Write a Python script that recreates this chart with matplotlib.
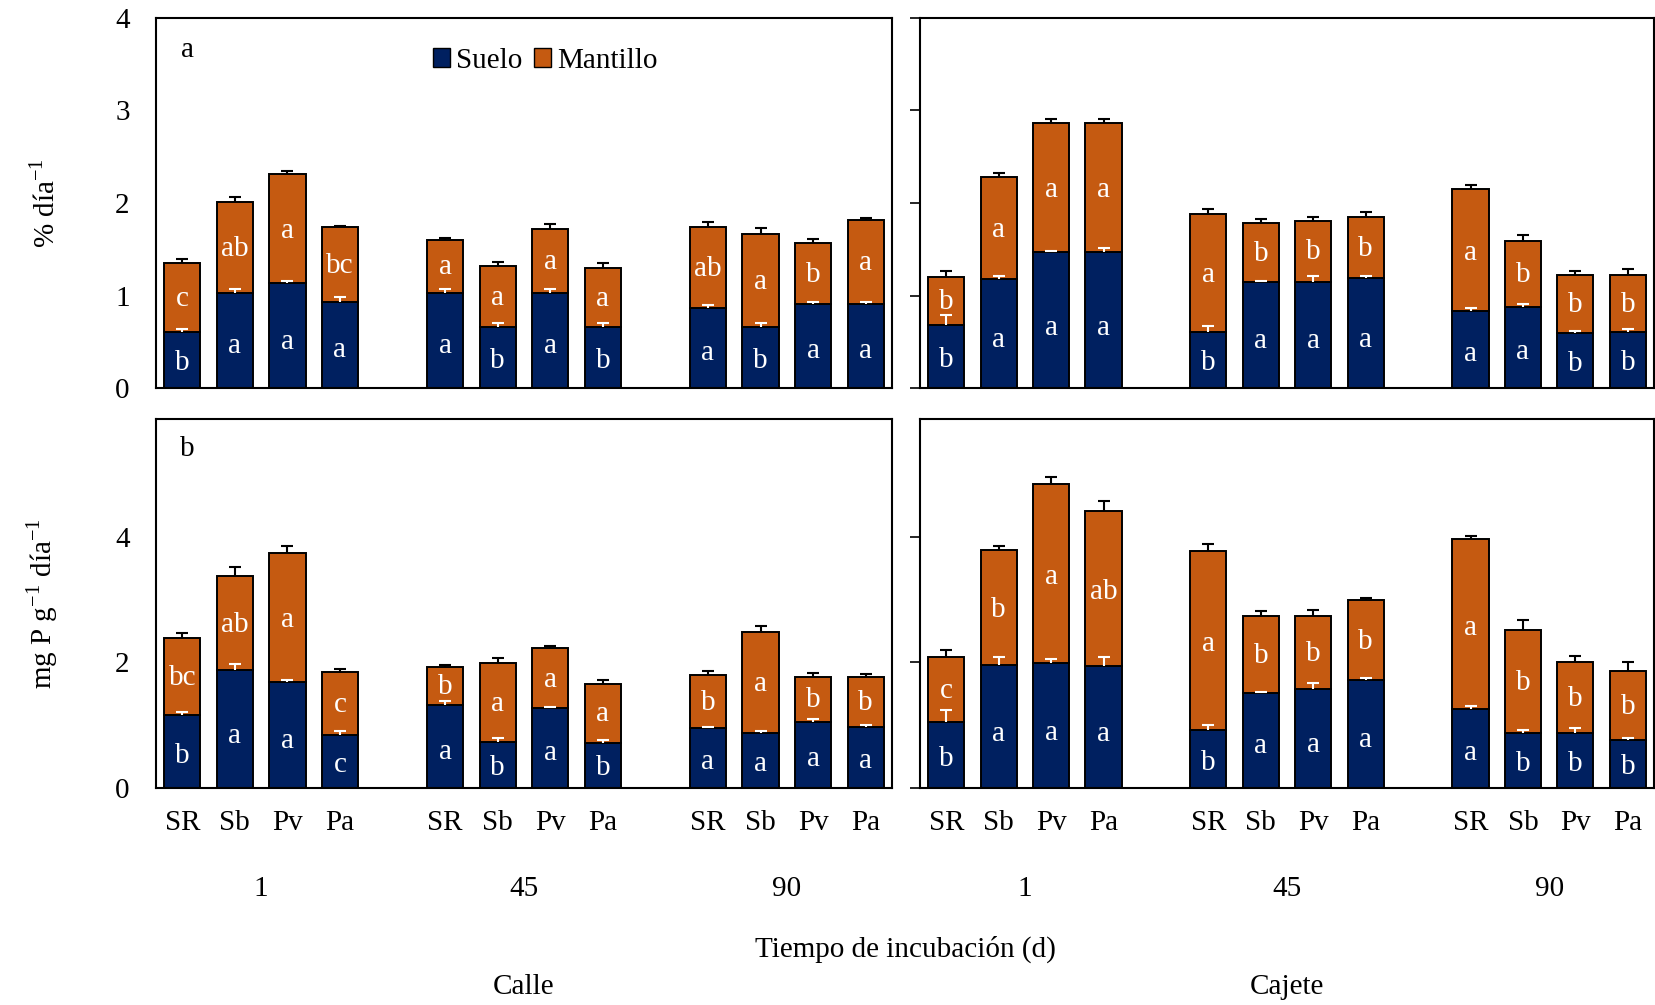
import numpy as np
import matplotlib
matplotlib.use("Agg")
import matplotlib.pyplot as plt
from matplotlib.patches import Patch

plt.rcParams['font.family'] = ['Liberation Serif', 'DejaVu Serif']
plt.rcParams['font.size'] = 21
plt.rcParams['mathtext.fontset'] = 'custom'
plt.rcParams['mathtext.rm'] = 'Liberation Serif'

# tratamientos y tiempos de incubación
tratamientos = ['SR', 'Sb', 'Pv', 'Pa']
tiempos = ['1', '45', '90']

# a) % día-1, Calle
calle_pct_suelo = [0.61, 1.03, 1.13, 0.93, 1.03, 0.66, 1.03, 0.66, 0.86, 0.66, 0.91, 0.91]
calle_pct_mant = [0.74, 0.98, 1.18, 0.81, 0.57, 0.66, 0.69, 0.64, 0.88, 1.01, 0.66, 0.91]
calle_pct_es_suelo = [0.03, 0.04, 0.03, 0.05, 0.04, 0.04, 0.04, 0.04, 0.04, 0.04, 0.02, 0.02]
calle_pct_es_mant = [0.04, 0.05, 0.04, 0.01, 0.02, 0.04, 0.05, 0.05, 0.05, 0.06, 0.04, 0.02]
calle_pct_let_suelo = ['b', 'a', 'a', 'a', 'a', 'b', 'a', 'b', 'a', 'b', 'a', 'a']
calle_pct_let_mant = ['c', 'ab', 'a', 'bc', 'a', 'a', 'a', 'a', 'ab', 'a', 'b', 'a']

# a) % día-1, Cajete
cajete_pct_suelo = [0.68, 1.18, 1.47, 1.47, 0.61, 1.15, 1.15, 1.19, 0.83, 0.88, 0.59, 0.61]
cajete_pct_mant = [0.52, 1.10, 1.39, 1.39, 1.27, 0.63, 0.66, 0.66, 1.32, 0.71, 0.63, 0.61]
cajete_pct_es_suelo = [0.11, 0.03, 0.01, 0.04, 0.06, 0.01, 0.06, 0.02, 0.04, 0.03, 0.03, 0.03]
cajete_pct_es_mant = [0.06, 0.04, 0.05, 0.05, 0.05, 0.05, 0.04, 0.05, 0.04, 0.06, 0.05, 0.07]
cajete_pct_let_suelo = ['b', 'a', 'a', 'a', 'b', 'a', 'a', 'a', 'a', 'a', 'b', 'b']
cajete_pct_let_mant = ['b', 'a', 'a', 'a', 'a', 'b', 'b', 'b', 'a', 'b', 'b', 'b']

# b) mg P g-1 día-1, Calle
calle_p_suelo = [1.16, 1.87, 1.69, 0.85, 1.32, 0.73, 1.27, 0.72, 0.95, 0.88, 1.05, 0.97]
calle_p_mant = [1.22, 1.51, 2.05, 0.99, 0.61, 1.26, 0.95, 0.94, 0.84, 1.60, 0.72, 0.80]
calle_p_es_suelo = [0.05, 0.11, 0.03, 0.06, 0.06, 0.07, 0.02, 0.04, 0.02, 0.03, 0.04, 0.03]
calle_p_es_mant = [0.08, 0.13, 0.11, 0.06, 0.03, 0.08, 0.04, 0.06, 0.07, 0.10, 0.06, 0.04]
calle_p_let_suelo = ['b', 'a', 'a', 'c', 'a', 'b', 'a', 'b', 'a', 'a', 'a', 'a']
calle_p_let_mant = ['bc', 'ab', 'a', 'c', 'b', 'a', 'a', 'a', 'b', 'a', 'b', 'b']

# b) mg P g-1 día-1, Cajete
cajete_p_suelo = [1.05, 1.95, 1.99, 1.94, 0.92, 1.51, 1.57, 1.72, 1.25, 0.88, 0.88, 0.77]
cajete_p_mant = [1.03, 1.83, 2.84, 2.47, 2.85, 1.22, 1.17, 1.27, 2.71, 1.64, 1.13, 1.09]
cajete_p_es_suelo = [0.19, 0.13, 0.07, 0.14, 0.08, 0.02, 0.10, 0.03, 0.06, 0.05, 0.07, 0.03]
cajete_p_es_mant = [0.11, 0.07, 0.12, 0.15, 0.11, 0.09, 0.09, 0.04, 0.05, 0.16, 0.09, 0.15]
cajete_p_let_suelo = ['b', 'a', 'a', 'a', 'b', 'a', 'a', 'a', 'a', 'b', 'b', 'b']
cajete_p_let_mant = ['c', 'b', 'a', 'ab', 'a', 'b', 'b', 'b', 'a', 'b', 'b', 'b']

c_suelo = '#002060'
c_mant = '#C55A11'

# posiciones: 4 barras por tiempo con un hueco entre grupos
x = np.array([g * 5 + i for g in range(3) for i in range(4)])


def barra_error(ax, y, err, color):
    # solo la mitad superior (forma de T)
    eb = ax.errorbar(x, y, yerr=[np.zeros(len(x)), err], fmt='none', ecolor=color,
                     elinewidth=1.5, capsize=4.5, capthick=1.5, zorder=3)
    eb[1][0].set_visible(False)


def panel(ax, suelo, mant, es_s, es_m, let_s, let_m, ylim, yticks):
    suelo = np.array(suelo)
    mant = np.array(mant)
    total = suelo + mant
    ax.bar(x, suelo, width=0.69, color=c_suelo, edgecolor='black', linewidth=1.4, zorder=2)
    ax.bar(x, mant, width=0.69, bottom=suelo, color=c_mant, edgecolor='black', linewidth=1.4, zorder=2)
    barra_error(ax, total, es_m, 'black')
    barra_error(ax, suelo, es_s, 'white')
    for xi, s, m, ls, lm in zip(x, suelo, mant, let_s, let_m):
        ax.text(xi, s * 0.44, ls, color='white', ha='center', va='center', fontsize=21, zorder=4)
        ax.text(xi, s + m * 0.48, lm, color='white', ha='center', va='center', fontsize=21, zorder=4)
    ax.set_xlim(-0.5, 13.5)
    ax.set_ylim(*ylim)
    ax.set_yticks(yticks)
    ax.set_xticks([])
    ax.tick_params(axis='y', direction='out', length=7, width=1.2, pad=14, labelsize=21)
    for sp in ax.spines.values():
        sp.set_linewidth(1.5)
        sp.set_color('black')


fig = plt.figure(figsize=(16.56, 10.05), dpi=100)
ax_tl = fig.add_axes([0.0942, 0.6139, 0.4444, 0.3682])
ax_tr = fig.add_axes([0.5556, 0.6139, 0.4432, 0.3682])
ax_bl = fig.add_axes([0.0942, 0.2159, 0.4444, 0.3672])
ax_br = fig.add_axes([0.5556, 0.2159, 0.4432, 0.3672])

panel(ax_tl, calle_pct_suelo, calle_pct_mant, calle_pct_es_suelo, calle_pct_es_mant,
      calle_pct_let_suelo, calle_pct_let_mant, (0, 4), [0, 1, 2, 3, 4])
panel(ax_tr, cajete_pct_suelo, cajete_pct_mant, cajete_pct_es_suelo, cajete_pct_es_mant,
      cajete_pct_let_suelo, cajete_pct_let_mant, (0, 4), [0, 1, 2, 3, 4])
panel(ax_bl, calle_p_suelo, calle_p_mant, calle_p_es_suelo, calle_p_es_mant,
      calle_p_let_suelo, calle_p_let_mant, (0, 5.87), [0, 2, 4])
panel(ax_br, cajete_p_suelo, cajete_p_mant, cajete_p_es_suelo, cajete_p_es_mant,
      cajete_p_let_suelo, cajete_p_let_mant, (0, 5.87), [0, 2, 4])

# paneles de la izquierda: números sin marcas; derecha: marcas sin números
for ax in (ax_tl, ax_bl):
    ax.tick_params(axis='y', length=0, pad=19)
ax_tr.set_yticklabels([])
ax_br.set_yticklabels([])

ax_tl.text(0.043, 0.913, 'a', transform=ax_tl.transAxes, ha='center', va='center', fontsize=21)
ax_bl.text(0.043, 0.919, 'b', transform=ax_bl.transAxes, ha='center', va='center', fontsize=21)

ax_tl.legend(handles=[Patch(facecolor=c_suelo, edgecolor='black', label='Suelo'),
                      Patch(facecolor=c_mant, edgecolor='black', label='Mantillo')],
             loc='center left', bbox_to_anchor=(0.36, 0.884), ncol=2, frameon=False,
             handlelength=0.6, handleheight=0.6, handletextpad=0.2, columnspacing=0.4,
             fontsize=21, borderaxespad=0)

ax_tl.set_ylabel('% día$^{\\mathrm{-1}}$', fontsize=21, labelpad=0)
ax_bl.set_ylabel('mg P g$^{\\mathrm{-1}}$ día$^{\\mathrm{-1}}$', fontsize=21, labelpad=0)
for ax in (ax_tl, ax_bl):
    ax.yaxis.set_label_coords(-0.13, 0.5)

# etiquetas de tratamiento y tiempo bajo los paneles inferiores
for ax in (ax_bl, ax_br):
    tr = ax.get_xaxis_transform()
    for xi, lab in zip(x, tratamientos * 3):
        ax.text(xi, -0.095, lab, transform=tr, ha='center', va='center', fontsize=21)
    for g, t in enumerate(tiempos):
        ax.text(g * 5 + 1.5, -0.274, t, transform=tr, ha='center', va='center', fontsize=21)

fig.text(0.5465, 1 - 949 / 1005, 'Tiempo de incubación (d)', ha='center', va='center', fontsize=21)
fig.text(0.3164, 1 - 987 / 1005, 'Calle', ha='center', va='center', fontsize=21)
fig.text(0.7772, 1 - 987 / 1005, 'Cajete', ha='center', va='center', fontsize=21)

fig.savefig('out.png', dpi=100)
